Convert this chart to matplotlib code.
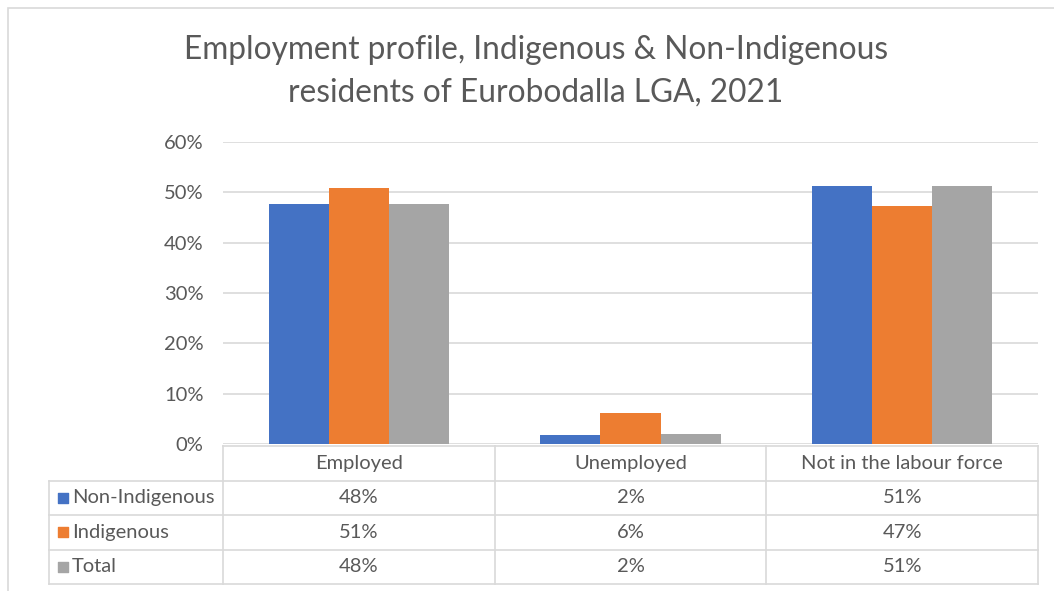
import numpy as np
import matplotlib.pyplot as plt
from matplotlib.patches import Rectangle

plt.rcParams["font.family"] = ["Lato", "DejaVu Sans"]

categories = ["Employed", "Unemployed", "Not in the labour force"]
series_names = ["Non-Indigenous", "Indigenous", "Total"]
non_indigenous = [0.476, 0.017, 0.513]
indigenous = [0.508, 0.062, 0.473]
total = [0.477, 0.019, 0.512]
y_ticks = [0.0, 0.1, 0.2, 0.3, 0.4, 0.5, 0.6]

series = [non_indigenous, indigenous, total]
colors = ["#4472C4", "#ED7D31", "#A5A5A5"]
text_col = "#595959"
line_col = "#D9D9D9"
fs = 14.5

W, H = 1054, 591
fig = plt.figure(figsize=(W / 100, H / 100), dpi=100)

# outer chart frame
fig.patches.append(Rectangle((8 / W, -0.05), 1.1, 1 - 8 / H + 0.05,
                             transform=fig.transFigure, fill=False,
                             edgecolor=line_col, linewidth=1.2))

fig.text(536 / W, 1 - 50 / H, "Employment profile, Indigenous & Non-Indigenous",
         ha="center", va="center", fontsize=22.8, color=text_col)
fig.text(536 / W, 1 - 93 / H, "residents of Eurobodalla LGA, 2021",
         ha="center", va="center", fontsize=22.8, color=text_col)

# plot area
ax = fig.add_axes([223 / W, (H - 444) / H, (1038 - 223) / W, (444 - 142) / H])
x = np.arange(len(categories))
bw = 0.221
for i, vals in enumerate(series):
    ax.bar(x + (i - 1) * bw, vals, width=bw, color=colors[i], zorder=2)

ax.set_xlim(-0.5, 2.5)
ax.set_ylim(0, 0.6)
ax.set_yticks(y_ticks)
ax.set_yticklabels([f"{t:.0%}" for t in y_ticks])
ax.set_xticks([])
ax.tick_params(axis="y", length=0, pad=14, labelsize=fs, labelcolor=text_col)
for s in ax.spines.values():
    s.set_visible(False)
ax.grid(axis="y", color=line_col, linewidth=1.2, zorder=0)

# data table underneath
cw = 271.67
x_left = -0.5 - (223 - 49) / cw
tax = fig.add_axes([49 / W, (H - 584) / H, (1038 - 49) / W, (584 - 446) / H])
tax.set_xlim(x_left, 2.5)
tax.set_ylim(4, 0)
tax.axis("off")

lkw = dict(color=line_col, linewidth=1.2, clip_on=False)
tax.plot([-0.5, 2.5], [0, 0], **lkw)
for r in range(1, 5):
    tax.plot([x_left, 2.5], [r, r], **lkw)
for xv in [-0.5, 0.5, 1.5, 2.5]:
    tax.plot([xv, xv], [0, 4], **lkw)
tax.plot([x_left, x_left], [1, 4], **lkw)

for j, cat in enumerate(categories):
    tax.text(j, 0.5, cat, ha="center", va="center", fontsize=fs, color=text_col)
for i, (name, vals) in enumerate(zip(series_names, series)):
    row = i + 1.5
    tax.scatter([x_left + 0.05], [row], marker="s", s=60, color=colors[i],
                clip_on=False)
    tax.text(x_left + 0.085, row, name, ha="left", va="center",
             fontsize=fs, color=text_col)
    for j, v in enumerate(vals):
        tax.text(j, row, f"{v:.0%}", ha="center", va="center",
                 fontsize=fs, color=text_col)

fig.savefig("out.png", dpi=100, facecolor="white")
